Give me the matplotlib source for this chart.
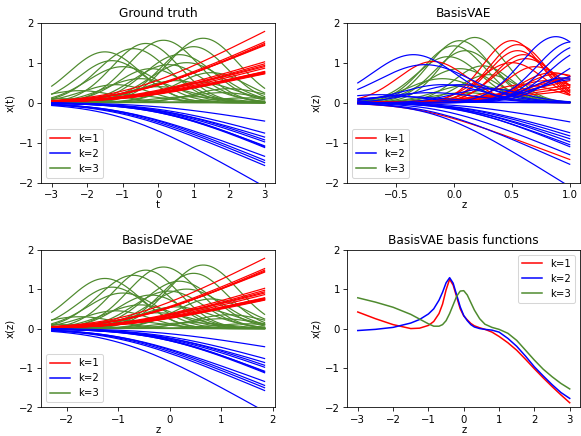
import numpy as np
import matplotlib
matplotlib.use('Agg')
import matplotlib.pyplot as plt
from matplotlib.lines import Line2D

# colours of the three clusters
col = {1: 'red', 2: 'blue', 3: '#4e8a2e'}
LW = 1.2

# ---------------- data ----------------
# ground truth, t in [-3, 3]
t_range = [-3.0, 3.0]
# k=1 rising curves: value at t=3 and where they bend
gt_red_end = [1.78, 1.52, 1.48, 1.45, 1.43, 1.02, 0.97, 0.93, 0.90, 0.86,
              0.78, 0.77, 0.76, 0.75, 0.74, 0.73, 0.72]
gt_red_shift = [-0.9, -0.8, -0.7, -0.8, -0.9, -0.8, -0.7, -0.8, -0.9, -0.7,
                -0.8, -0.9, -0.7, -0.8, -0.8, -0.9, -0.7]
# k=2 falling curves
gt_blue_end = [-0.46, -0.76, -0.86, -0.93, -0.98, -1.08, -1.10, -1.12,
               -1.34, -1.44, -1.50, -1.57, -2.10]
gt_blue_shift = [0.0, 0.1, 0.0, 0.2, 0.1, 0.0, 0.2, 0.1,
                 -1.0, -0.9, -1.0, -1.1, -1.1]
# k=3 bumps: centre, height, width
gt_green_mu = [-1.5, -1.3, -1.0, -0.7, -0.35, 0.15, 1.27, 1.0, 0.6, 0.8, 0.3, -0.2, 1.5,
               -0.5, 0.5, 1.2, -1.2, 0.0, 2.0, -2.2, 1.8, -0.9, 0.9, 2.5, -2.8]
gt_green_amp = [1.27, 1.05, 0.9, 1.35, 1.48, 1.56, 1.61, 1.4, 1.2, 1.0, 0.95, 0.85, 0.75,
                0.6, 0.55, 0.5, 0.45, 0.4, 0.35, 0.3, 0.25, 0.2, 0.15, 0.12, 0.1]
gt_green_sd = [1.0, 0.95, 1.0, 1.0, 0.95, 1.0, 1.0, 0.95, 1.0, 1.05, 1.0, 0.95, 1.0,
               1.0, 1.05, 1.0, 0.95, 1.0, 1.0, 1.0, 1.0, 0.95, 1.0, 1.0, 1.0]

# BasisDeVAE: same curves on its own latent scale
devae_range = [-2.29, 1.845]

# BasisVAE, z in [-0.83, 1.0]
vae_range = [-0.83, 1.0]
vae_green_mu = [0.18, 0.05, 0.0, 0.1, -0.05, 0.25, 0.05, 0.3, -0.1, 0.15, 0.35, 0.1]
vae_green_amp = [1.63, 1.55, 1.42, 1.3, 1.15, 0.92, 0.85, 0.7, 0.6, 0.45, 0.35, 0.25]
vae_green_sd = [0.27, 0.27, 0.27, 0.27, 0.28, 0.25, 0.3, 0.25, 0.3, 0.3, 0.25, 0.3]

vae_red_mu = [-0.18, 0.5, 0.55, 0.55, 0.6, 0.62, 0.5, 0.7, 0.85, 0.9, 0.95, 0.8, 0.6]
vae_red_amp = [1.03, 1.55, 1.45, 1.3, 1.2, 1.1, 1.0, 0.9, 0.75, 0.72, 0.6, 0.55, 0.45]
vae_red_sd = [0.3, 0.25, 0.25, 0.25, 0.25, 0.27, 0.28, 0.25, 0.28, 0.3, 0.3, 0.3, 0.3]
vae_red_up_end = [0.3, 0.38, 0.45, 0.55, 0.65]
vae_red_up_shift = [0.2, 0.3, 0.25, 0.35, 0.4]
vae_red_down_end = [-1.42]
vae_red_down_shift = [-0.3]

vae_blue_mu = [-0.35, -0.25, 0.88, 1.02, 1.08, 1.15, 1.25, 0.95, 1.05, 1.4,
               -0.1, 0.05, -0.65, -0.45, -0.2, 0.3]
vae_blue_amp = [1.2, 0.95, 1.65, 1.52, 1.42, 1.32, 1.1, 0.62, 0.58, 0.9,
                0.45, 0.45, 0.2, 0.15, 0.25, 0.35]
vae_blue_sd = [0.36, 0.4, 0.3, 0.3, 0.3, 0.32, 0.35, 0.3, 0.35, 0.5,
               0.35, 0.35, 0.35, 0.4, 0.4, 0.3]
vae_blue_down_end = [-0.48, -0.75, -0.83, -0.9, -0.98, -1.05, -1.1, -1.3, -1.54, -2.1]
vae_blue_down_shift = [0.1, 0.1, 0.1, 0.05, 0.1, 0.05, 0.1, -0.1, -0.2, -0.15]

# BasisVAE basis functions
basis_z = [-3, -2.5, -2, -1.5, -1.25, -1, -0.85, -0.7, -0.6, -0.5, -0.4, -0.3, -0.2, -0.1,
           0, 0.1, 0.2, 0.3, 0.45, 0.6, 0.8, 1.0, 1.25, 1.5, 1.75, 2, 2.25, 2.5, 2.75, 3]
basis_k1 = [0.42, 0.25, 0.1, 0.0, 0.01, 0.08, 0.18, 0.38, 0.62, 0.98, 1.25, 1.1, 0.8, 0.5,
            0.32, 0.22, 0.13, 0.07, 0.02, -0.02, -0.09, -0.2, -0.36, -0.55, -0.78, -1.02,
            -1.25, -1.47, -1.68, -1.88]
basis_k2 = [-0.05, -0.02, 0.03, 0.14, 0.23, 0.37, 0.5, 0.72, 0.92, 1.16, 1.29, 1.15, 0.85,
            0.55, 0.33, 0.2, 0.1, 0.04, 0.0, -0.02, -0.04, -0.09, -0.25, -0.45, -0.7, -0.97,
            -1.2, -1.42, -1.62, -1.77]
basis_k3 = [0.78, 0.67, 0.54, 0.36, 0.24, 0.12, 0.06, 0.06, 0.1, 0.2, 0.38, 0.6, 0.82, 0.95,
            0.96, 0.85, 0.66, 0.47, 0.25, 0.11, 0.03, -0.02, -0.12, -0.3, -0.55, -0.8,
            -1.03, -1.22, -1.39, -1.53]


def softplus(x):
    return np.log1p(np.exp(x))


def ramp(x, end, shift, sharp=1.0):
    return end * softplus(sharp * (x - shift)) / softplus(sharp * (x[-1] - shift))


def bump(x, mu, amp, sd):
    return amp * np.exp(-0.5 * ((x - mu) / sd) ** 2)


t = np.linspace(t_range[0], t_range[1], 300)
z_vae = np.linspace(vae_range[0], vae_range[1], 300)

fig = plt.figure(figsize=(8, 6), dpi=72.67)
ax1 = fig.add_axes([0.0706, 0.581, 0.4028, 0.367])
ax2 = fig.add_axes([0.5972, 0.581, 0.401, 0.367])
ax3 = fig.add_axes([0.0706, 0.0654, 0.4028, 0.362])
ax4 = fig.add_axes([0.5972, 0.0654, 0.401, 0.362])


def draw_truth(ax, x):
    for m, a, s in zip(gt_green_mu, gt_green_amp, gt_green_sd):
        ax.plot(x, bump(t, m, a, s), color=col[3], lw=LW)
    for e, c in zip(gt_red_end, gt_red_shift):
        ax.plot(x, ramp(t, e, c), color=col[1], lw=LW)
    for e, c in zip(gt_blue_end, gt_blue_shift):
        ax.plot(x, ramp(t, e, c), color=col[2], lw=LW)


draw_truth(ax1, t)
z_de = devae_range[0] + (t - t_range[0]) * (devae_range[1] - devae_range[0]) / (t_range[1] - t_range[0])
draw_truth(ax3, z_de)

for m, a, s in zip(vae_green_mu, vae_green_amp, vae_green_sd):
    ax2.plot(z_vae, bump(z_vae, m, a, s), color=col[3], lw=LW)
for m, a, s in zip(vae_red_mu, vae_red_amp, vae_red_sd):
    ax2.plot(z_vae, bump(z_vae, m, a, s), color=col[1], lw=LW)
for e, c in zip(vae_red_up_end, vae_red_up_shift):
    ax2.plot(z_vae, ramp(z_vae, e, c, 3), color=col[1], lw=LW)
for e, c in zip(vae_red_down_end, vae_red_down_shift):
    ax2.plot(z_vae, ramp(z_vae, e, c, 4), color=col[1], lw=LW)
for m, a, s in zip(vae_blue_mu, vae_blue_amp, vae_blue_sd):
    ax2.plot(z_vae, bump(z_vae, m, a, s), color=col[2], lw=LW)
for e, c in zip(vae_blue_down_end, vae_blue_down_shift):
    ax2.plot(z_vae, ramp(z_vae, e, c, 4), color=col[2], lw=LW)

ax4.plot(basis_z, basis_k1, color=col[1], label='k=1')
ax4.plot(basis_z, basis_k2, color=col[2], label='k=2')
ax4.plot(basis_z, basis_k3, color=col[3], label='k=3')

handles = [Line2D([], [], color=col[k]) for k in (1, 2, 3)]
labels = ['k=1', 'k=2', 'k=3']

ax1.set_title('Ground truth')
ax1.set_xlabel('t', labelpad=0.5)
ax1.set_ylabel('x(t)')
ax2.set_title('BasisVAE')
ax3.set_title('BasisDeVAE')
ax4.set_title('BasisVAE basis functions')
for ax in (ax2, ax3, ax4):
    ax.set_xlabel('z', labelpad=0)
    ax.set_ylabel('x(z)')
for ax in (ax1, ax2, ax3):
    ax.legend(handles, labels, loc='lower left')
ax4.legend(loc='upper right')

for ax in (ax1, ax2, ax3, ax4):
    ax.set_ylim(-2, 2)
    ax.set_yticks([-2, -1, 0, 1, 2])

fig.savefig('out.png', dpi=72.67)
